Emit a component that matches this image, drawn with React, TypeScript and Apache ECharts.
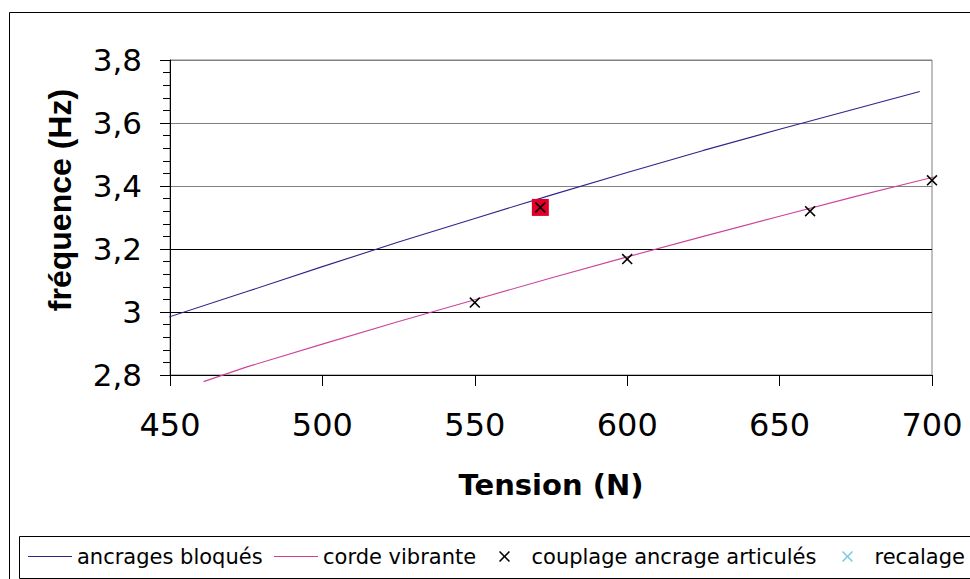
import React, { useEffect, useRef } from "react";
import * as echarts from "echarts";

// Tick values
const xTicks = [450, 500, 550, 600, 650, 700];
const yTicks = [2.8, 3.0, 3.2, 3.4, 3.6, 3.8];

// ancrages bloqués (curve)
const bloquesT = [448, 475, 500, 525, 550, 575, 600, 625, 650, 675, 696];
const bloquesF = [2.979, 3.064, 3.144, 3.222, 3.297, 3.371, 3.443, 3.513, 3.58, 3.645, 3.7];

// corde vibrante
const cordeT = [461, 475, 500, 525, 550, 575, 600, 625, 650, 675, 703];
const cordeF = [2.779, 2.825, 2.898, 2.97, 3.039, 3.108, 3.175, 3.24, 3.304, 3.367, 3.434];

// couplage ancrage articulés (markers)
const couplageT = [550, 571.5, 600, 660, 700];
const couplageF = [3.03, 3.332, 3.168, 3.32, 3.418];

// highlighted point (red square)
const highlightT = [571.5];
const highlightF = [3.332];

// recalage (hidden under the highlighted point)
const recalageT = [571.5];
const recalageF = [3.332];

const seriesNames = ["ancrages bloqués", "corde vibrante", "couplage ancrage articulés", "recalage"];

const zip = (a: number[], b: number[]) => a.map((v, i) => [v, b[i]]);

const CROSS = "path://M1,0L5,4L9,0L10,1L6,5L10,9L9,10L5,6L1,10L0,9L4,5L0,1Z";
const LINE_ICON = "path://M0,0L44,0L44,1.2L0,1.2Z";

export default function App() {
  const ref = useRef<HTMLDivElement>(null);
  useEffect(() => {
    if (!ref.current) return;
    const chart = echarts.init(ref.current, null, { renderer: "svg" });
    const font = "DejaVu Sans";
    const legendBase = {
      top: 546,
      padding: 0,
      itemWidth: 44,
      itemHeight: 11,
      textStyle: { fontFamily: font, fontSize: 21, color: "#000" },
    };
    const legendLefts = [28, 274, 499, 842];
    const legendIcons = [LINE_ICON, LINE_ICON, CROSS, CROSS];
    chart.setOption({
      animation: false,
      backgroundColor: "#ffffff",
      textStyle: { fontFamily: font },
      grid: {
        left: 170,
        right: 38,
        top: 60,
        bottom: 204,
        show: true,
        borderColor: "#808080",
        borderWidth: 1,
        backgroundColor: "transparent",
      },
      xAxis: {
        type: "value",
        min: xTicks[0],
        max: xTicks[xTicks.length - 1],
        interval: 50,
        name: "Tension (N)",
        nameLocation: "middle",
        nameGap: 95,
        nameTextStyle: { fontFamily: font, fontWeight: "bold", fontSize: 29, color: "#000" },
        axisLine: { show: true, lineStyle: { color: "#000", width: 1 } },
        axisTick: { show: true, inside: false, length: 11, lineStyle: { color: "#000" } },
        axisLabel: { fontFamily: font, fontSize: 32, color: "#000", margin: 34 },
        splitLine: { show: false },
      },
      yAxis: {
        type: "value",
        min: yTicks[0],
        max: yTicks[yTicks.length - 1],
        interval: 0.2,
        axisLine: { show: true, lineStyle: { color: "#000", width: 1 } },
        axisTick: { show: true, inside: false, length: 10, lineStyle: { color: "#000" } },
        minorTick: { show: true, splitNumber: 5, length: 7, lineStyle: { color: "#000" } },
        axisLabel: {
          fontFamily: font,
          fontSize: 31,
          color: "#000",
          margin: 28,
          formatter: (v: number) => String(Math.round(v * 10) / 10).replace(".", ","),
        },
        splitLine: {
          show: true,
          lineStyle: { color: ["#000", "#000", "#000", "#808080", "#808080", "#808080"], width: 1 },
        },
      },
      legend: seriesNames.map((n, i) => ({
        ...legendBase,
        left: legendLefts[i],
        data: [{ name: n, icon: legendIcons[i] }],
      })),
      graphic: [
        {
          type: "rect",
          shape: { x: 9.5, y: 12.5, width: 1000, height: 1000 },
          style: { fill: "none", stroke: "#000", lineWidth: 1 },
          z: -1,
        },
        {
          type: "rect",
          shape: { x: 19.5, y: 536.5, width: 1000, height: 42 },
          style: { fill: "#fff", stroke: "#000", lineWidth: 1 },
          z: -1,
        },
        {
          type: "text",
          x: 60,
          y: 200,
          rotation: Math.PI / 2,
          style: {
            text: "fréquence (Hz)",
            fontFamily: "Liberation Sans",
            fontWeight: "bold",
            fontSize: 32,
            fill: "#000",
            align: "center",
            verticalAlign: "middle",
          },
        },
      ],
      series: [
        {
          name: seriesNames[0],
          type: "line",
          data: zip(bloquesT, bloquesF),
          showSymbol: false,
          symbol: "none",
          clip: false,
          lineStyle: { color: "#332288", width: 1.1 },
          itemStyle: { color: "#332288" },
        },
        {
          name: seriesNames[1],
          type: "line",
          data: zip(cordeT, cordeF),
          showSymbol: false,
          symbol: "none",
          clip: false,
          lineStyle: { color: "#CC4499", width: 1.1 },
          itemStyle: { color: "#CC4499" },
        },
        {
          name: seriesNames[3],
          type: "scatter",
          data: zip(recalageT, recalageF),
          symbol: CROSS,
          symbolSize: 11,
          clip: false,
          itemStyle: { color: "#7FC9E0", opacity: 1 },
          z: 2,
        },
        {
          name: "highlight",
          type: "scatter",
          data: zip(highlightT, highlightF),
          symbol: "rect",
          symbolSize: 17,
          clip: false,
          itemStyle: { color: "#E0002B", opacity: 1 },
          z: 3,
        },
        {
          name: seriesNames[2],
          type: "scatter",
          data: zip(couplageT, couplageF),
          symbol: CROSS,
          symbolSize: 11,
          clip: false,
          itemStyle: { color: "#000", opacity: 1 },
          z: 4,
        },
      ],
    });
    return () => chart.dispose();
  }, []);
  return (
    <div
      ref={ref}
      style={{ position: "fixed", left: 0, top: 0, width: 970, height: 579 }}
    />
  );
}
